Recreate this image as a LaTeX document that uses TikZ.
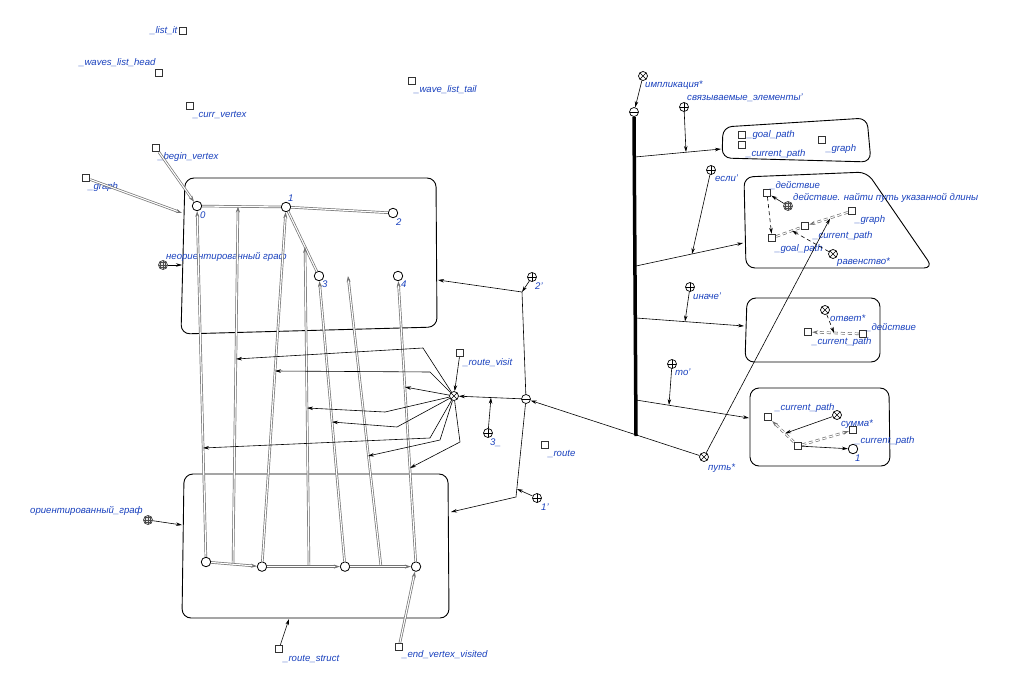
\documentclass[tikz,border=0pt]{standalone}
\usepackage{fontspec}
\setmainfont{Liberation Sans}
\usetikzlibrary{arrows.meta,calc}
\definecolor{lbl}{RGB}{25,65,190}
\begin{document}
\begin{tikzpicture}[x=1pt,y=-1pt,
 lab/.style={anchor=base west, inner sep=0, text=lbl, font=\fontsize{9.6}{10}\selectfont\itshape},
 sq/.style={draw=black!80, line width=0.9pt, minimum size=7.5pt, inner sep=0, fill=white},
 cn/.style={circle, draw, line width=0.8pt, minimum size=9.5pt, inner sep=0, fill=white},
 op/.style={circle, draw, line width=0.7pt, minimum size=9pt, inner sep=0, fill=white},
 plusnode/.style={op, path picture={\draw[line width=0.6pt] (path picture bounding box.north) -- (path picture bounding box.south) (path picture bounding box.west) -- (path picture bounding box.east);}},
 crossnode/.style={op, path picture={\draw[line width=0.6pt] (path picture bounding box.north west) -- (path picture bounding box.south east) (path picture bounding box.north east) -- (path picture bounding box.south west);}},
 minusnode/.style={op, path picture={\draw[line width=0.6pt] (path picture bounding box.west) -- (path picture bounding box.east);}},
 gridnode/.style={op, draw=black!75, fill=black!10, path picture={\foreach \d in {-2.4pt,0pt,2.4pt}{\draw[line width=0.35pt,black!70] ([xshift=\d]path picture bounding box.north) -- ([xshift=\d]path picture bounding box.south); \draw[line width=0.35pt,black!70] ([yshift=\d]path picture bounding box.west) -- ([yshift=\d]path picture bounding box.east);}}},
 ar/.style={-{Stealth[length=6pt,width=3.5pt]}, line width=0.6pt},
 dbl/.style={draw=black!55, double=white, line width=0.7pt, double distance=1.1pt},
 dbla/.style={dbl, -{Stealth[length=6pt,width=4pt]}},
 dsh/.style={dash pattern=on 4pt off 3pt},
 contour/.style={line width=0.9pt, rounded corners=9pt}
]
\fill[white] (0,0) rectangle (1025,674);
\useasboundingbox (0,0) rectangle (1025,674);

% ---- top-left loose elements
\node[sq] (sqListIt) at (183,31) {};
\node[lab] (lListIt) at (150,34) {\_list\_it};
\node[sq] (sqWLH) at (159,73) {};
\node[lab] (lWLH) at (79,66) {\_waves\_list\_head};
\node[sq] (sqCV) at (190,106) {};
\node[lab] (lCV) at (193,118) {\_curr\_vertex};
\node[sq] (sqWLT) at (412,81) {};
\node[lab] (lWLT) at (414,93) {\_wave\_list\_tail};
\node[sq] (sqBV) at (156,148) {};
\node[lab] (lBV) at (158,160) {\_begin\_vertex};
\node[sq] (sqG) at (86,178) {};
\node[lab] (lG) at (88,189.5) {\_graph};

% ---- upper contour
\draw[contour] (185,178) -- (436,178) -- (437,327) -- (181,334) -- cycle;
\node[cn] (v0) at (197,206) {};
\node[cn] (v1) at (286,207) {};
\node[cn] (v2) at (393,213) {};
\node[cn] (v3) at (319,276) {};
\node[cn] (v4) at (398,276) {};
\node[lab] (l0) at (200,218.5) {0};
\node[lab] (l1v) at (288,201.5) {1};
\node[lab] (l2v) at (396,225.5) {2};
\node[lab] (l3v) at (322,287.5) {3};
\node[lab] (l4v) at (401,287.5) {4};
\draw[dbl] (v0) -- (v1);
\draw[dbl] (v1) -- (v2);
\draw[dbl] (v1) -- (v3);
\draw[dbl] (v3) -- (v4);
\coordinate (e01u) at (238,206.5);
\coordinate (e13u) at (305,247);
\coordinate (e34u) at (348,276);

\node[gridnode] (gUnd) at (163,265) {};
\node[lab] (lUnd) at (166,259) {неориентированный граф};
\coordinate (c1L2) at (182,265);
\draw[ar] (gUnd) -- (c1L2);
\coordinate (c1L1) at (182,213);
\draw[dbla] (sqG) -- (c1L1);
\draw[dbla] (sqBV) -- (v0);

% ---- lower contour
\draw[contour] (184,474) -- (448,474) -- (449,618) -- (182,618) -- cycle;
\node[cn] (b0) at (206,562) {};
\node[cn] (b1) at (262,566.6) {};
\node[cn] (b2) at (345,566.6) {};
\node[cn] (b3) at (416,566.6) {};
\coordinate (e01b) at (233,564.2);
\coordinate (e12b) at (309,566.6);
\coordinate (e23b) at (381,566.6);

\draw[dbla] (b0) -- (v0);
\draw[dbla] (e01b) -- (e01u);
\draw[dbla] (b1) -- (v1);
\draw[dbla] (e12b) -- (e13u);
\draw[dbla] (b2) -- (v3);
\draw[dbla] (e23b) -- (e34u);
\draw[dbla] (b3) -- (v4);
\draw[dbla] (b0) -- (b1);
\draw[dbla] (b1) -- (b2);
\draw[dbla] (b2) -- (b3);

\node[gridnode] (gOr) at (148,520) {};
\node[lab] (lOr) at (30,513) {ориентированный\_граф};
\coordinate (c2L) at (182,525);
\draw[ar] (gOr) -- (c2L);
\node[sq] (sqRS) at (279,649) {};
\node[lab] (lRS) at (283,661) {\_route\_struct};
\coordinate (c2B) at (289,619);
\draw[ar] (sqRS) -- (c2B);
\node[sq] (sqEVV) at (399,647) {};
\node[lab] (lEVV) at (402,657) {\_end\_vertex\_visited};
\draw[dbla] (sqEVV) -- (b3);

% ---- central relation
\node[crossnode] (rv) at (454,396) {};
\node[minusnode] (tup) at (526,399) {};
\node[sq] (sqRV) at (460,353) {};
\node[lab] (lRV) at (463,365) {\_route\_visit};
\node[plusnode] (r3) at (488,433) {};
\node[lab] (l3) at (490,445) {3\_};
\node[plusnode] (r2) at (532,277) {};
\node[lab] (l2) at (535,289) {2'};
\node[plusnode] (r1) at (537,498) {};
\node[lab] (l1) at (541,510) {1'};
\node[sq] (sqR) at (545,445) {};
\node[lab] (lR) at (548,456) {\_route};

\coordinate (brk2) at (522,292);
\coordinate (c1R) at (438,280);
\coordinate (brk1) at (516,497);
\coordinate (c2R) at (451,512);
\coordinate (m1) at (517,489);
\coordinate (m3) at (491,397.6);
\draw[ar] (tup) -- (brk2) -- (c1R);
\draw[ar] (tup) -- (brk1) -- (c2R);
\draw[ar] (tup) -- (rv);
\draw[ar] (r2) -- (brk2);
\draw[ar] (r1) -- (m1);
\draw[ar] (r3) -- (m3);
\draw[ar] (sqRV) -- (rv);

% fan of arcs
\coordinate (t1) at (236,359);
\coordinate (t2) at (275,371);
\coordinate (t3) at (405,387);
\coordinate (t4) at (307,408);
\coordinate (t5) at (332,422);
\coordinate (t6) at (203,448);
\coordinate (t7) at (368,456);
\coordinate (t8) at (410,468);
\draw[ar] (rv) -- (423,348) -- (t1);
\draw[ar] (rv) -- (430,372) -- (t2);
\draw[ar] (rv) -- (t3);
\draw[ar] (rv) -- (385,412) -- (t4);
\draw[ar] (rv) -- (397,427) -- (t5);
\draw[ar] (rv) -- (430,438) -- (t6);
\draw[ar] (rv) -- (440,440) -- (t7);
\draw[ar] (rv) -- (460,442) -- (t8);

% ---- right side: implication bus
\node[minusnode] (imp) at (634,112) {};
\node[crossnode] (impR) at (643,76) {};
\node[lab] (lImp) at (645,88) {импликация*};
\draw[ar] (impR) -- (imp);
\coordinate (busEnd) at (636,436);
\draw[line width=3.5pt] (imp.south) -- (busEnd);
\coordinate (bus1) at (635,157);
\coordinate (bus2) at (636,266);
\coordinate (bus3) at (636,318);
\coordinate (bus4) at (636,400);

% contour 1
\draw[contour] (723,127) -- (867,118) -- (871,162) -- (722,158) -- cycle;
\coordinate (c3L) at (721,149);
\draw[ar] (bus1) -- (c3L);
\node[plusnode] (rSv) at (684,107) {};
\node[lab] (lSv) at (687,101) {связываемые\_элементы'};
\coordinate (m4) at (686,152);
\draw[ar] (rSv) -- (m4);
\node[sq] (sqGP1) at (742,135) {};
\node[lab] (lGP1) at (747,138) {\_goal\_path};
\node[sq] (sqCP1) at (742,145) {};
\node[lab] (lCP1) at (746,157) {\_current\_path};
\node[sq] (sqG1) at (822,140) {};
\node[lab] (lG1) at (826,152) {\_graph};

% contour 2
\draw[contour] (744,177) -- (867,172) -- (933,268) -- (746,268) -- cycle;
\coordinate (c4L) at (743,243);
\draw[ar] (bus2) -- (c4L);
\node[plusnode] (rIf) at (711,170) {};
\node[lab] (lIf) at (715,181) {если'};
\coordinate (m5) at (692,254);
\draw[ar] (rIf) -- (m5);
\node[sq] (sqA) at (767,193) {};
\node[gridnode] (gAct) at (788,206) {};
\node[sq] (sqB) at (852,211) {};
\node[sq] (sqC) at (805,226) {};
\node[sq] (sqD) at (772,238) {};
\node[crossnode] (eqR) at (833,254) {};
\node[lab] (lA) at (770,188) {\_действие};
\node[lab] (lAct) at (793,200) {действие. найти путь указанной длины};
\node[lab] (lB) at (855,222) {\_graph};
\node[lab] (lC) at (813,238) {\_current\_path};
\node[lab] (lD) at (775,251) {\_goal\_path};
\node[lab] (lEq) at (837,264) {равенство*};
\draw[ar] (gAct) -- (sqA);
\draw[ar, dsh] (sqA) -- (sqD);
\draw[dbla, dsh] (sqB) -- (sqC);
\draw[dbl, dsh] (sqD) -- (sqC);
\coordinate (mBC) at (830,218.5);
\coordinate (mDC) at (792,230.7);
\draw[ar, dsh] (eqR) -- (mDC);

% contour 3
\draw[contour] (747,298) -- (880,298) -- (880,362) -- (745,362) -- cycle;
\coordinate (c5L) at (744,326);
\draw[ar] (bus3) -- (c5L);
\node[plusnode] (rElse) at (690,287) {};
\node[lab] (lElse) at (693,299) {иначе'};
\coordinate (m6) at (685,321.5);
\draw[ar] (rElse) -- (m6);
\node[crossnode] (ansR) at (825,310) {};
\node[sq] (sqE) at (808,332) {};
\node[sq] (sqF) at (863,334) {};
\node[lab] (lAns) at (830,321) {ответ*};
\node[lab] (lF) at (866,330) {\_действие};
\node[lab] (lE) at (812,344) {\_current\_path};
\draw[dbla, dsh] (sqF) -- (sqE);
\coordinate (mFE) at (834,333);
\draw[ar, dsh] (ansR) -- (mFE);

% contour 4
\draw[contour] (750,388) -- (889,388) -- (890,466) -- (750,466) -- cycle;
\coordinate (c6L) at (749,418);
\draw[ar] (bus4) -- (c6L);
\node[plusnode] (rThen) at (672,364) {};
\node[lab] (lThen) at (675,375) {то'};
\coordinate (m7) at (669,405);
\draw[ar] (rThen) -- (m7);
\node[sq] (sqG4) at (768,417) {};
\node[crossnode] (sumR) at (837,415) {};
\node[sq] (sqH) at (853,430) {};
\node[sq] (sqI) at (798,446) {};
\node[cn] (cJ) at (853,449) {};
\node[lab] (lG4) at (775,410) {\_current\_path};
\node[lab] (lSum) at (841,426) {сумма*};
\node[lab] (lH) at (855,443) {\_current\_path};
\node[lab] (lJ) at (855,461) {1};
\draw[dbla, dsh] (sqI) -- (sqG4);
\draw[dbla, dsh] (sqI) -- (sqH);
\draw[ar] (sqI) -- (cJ);
\coordinate (mIG) at (785,433.4);
\draw[ar] (sumR) -- (mIG);

% path relation
\node[crossnode] (pathR) at (704,457) {};
\node[lab] (lPath) at (708,470) {путь*};
\draw[ar] (pathR) -- (tup);
\draw[ar] (pathR) -- (mBC);
\end{tikzpicture}
\end{document}
